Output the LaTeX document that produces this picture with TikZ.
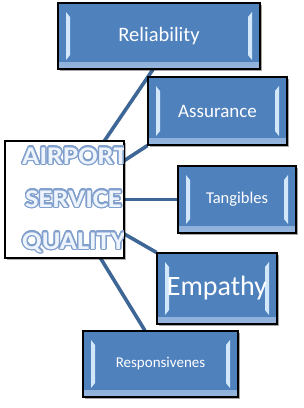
\documentclass[tikz,border=0pt]{standalone}
\usepackage{fontspec}
\setmainfont{Carlito}
\usepackage[copies]{contour}
\usetikzlibrary{positioning,calc,shadows,backgrounds}
\definecolor{boxblue}{RGB}{79,129,189}
\definecolor{boxbottom}{RGB}{150,182,222}
\definecolor{bevellight}{RGB}{210,232,250}
\definecolor{linkblue}{RGB}{62,102,150}
\definecolor{hubedge}{RGB}{130,160,205}
\definecolor{hubfill}{RGB}{238,244,251}
\contourlength{1.2pt}
\contournumber{24}
\newcommand{\hubword}[1]{\scalebox{1.12}[1]{\contour{hubedge}{#1}}}

\begin{document}
\begin{tikzpicture}[x=1pt,y=-1pt,
    dimbox/.style={draw=black,line width=1.1pt,fill=boxblue,text=white,inner sep=0pt,
      drop shadow={shadow xshift=1.5pt,shadow yshift=-1.5pt,opacity=.35,fill=black},
      path picture={
        \shade[top color=boxblue,bottom color=boxbottom]
          ([yshift=7pt]path picture bounding box.south west) rectangle (path picture bounding box.south east);
        \fill[bevellight] ([shift={(8pt,-9pt)}]path picture bounding box.north west)
          -- ([shift={(12pt,-14pt)}]path picture bounding box.north west)
          -- ([shift={(12pt,14pt)}]path picture bounding box.south west)
          -- ([shift={(8pt,9pt)}]path picture bounding box.south west) -- cycle;
        \fill[bevellight] ([shift={(-8pt,-9pt)}]path picture bounding box.north east)
          -- ([shift={(-12pt,-14pt)}]path picture bounding box.north east)
          -- ([shift={(-12pt,14pt)}]path picture bounding box.south east)
          -- ([shift={(-8pt,9pt)}]path picture bounding box.south east) -- cycle;
      }},
    hubword/.style={inner sep=0pt,anchor=base west,text=hubfill,
      font=\fontsize{25.5}{27}\selectfont\bfseries},
    link/.style={draw=linkblue,line width=3.6pt}]
  \useasboundingbox (0,0) rectangle (304,408);

  % centre box
  \node[draw=black,line width=1.1pt,fill=white,minimum width=119pt,minimum height=117pt,
    drop shadow={shadow xshift=1.5pt,shadow yshift=-1.5pt,opacity=.3,fill=black}] (hub) at (64.5,199.5) {};
  \begin{scope}
    \clip ([shift={(0.6pt,-0.6pt)}]hub.north west) rectangle ([shift={(-0.6pt,0.6pt)}]hub.south east);
    \node[hubword] (airport) at (22,164) {\hubword{AIRPORT}};
    \node[hubword] (service) at (25,207) {\hubword{SERVICE}};
    \node[hubword] (quality) at (22,249) {\hubword{QUALITY}};
  \end{scope}

  % dimensions
  \node[dimbox,minimum width=202pt,minimum height=66pt,font=\fontsize{20.5}{22}\selectfont] (rel) at (159,36) {Reliability};
  \node[dimbox,minimum width=139pt,minimum height=68pt,font=\fontsize{19}{21}\selectfont] (ass) at (217.5,111) {Assurance};
  \node[dimbox,minimum width=118pt,minimum height=67pt,font=\fontsize{16.5}{18}\selectfont] (tan) at (237,199.5) {Tangibles};
  \node[dimbox,minimum width=120pt,minimum height=71pt,font=\fontsize{28}{30}\selectfont] (emp) at (217,288.5) {Empathy};
  \node[dimbox,minimum width=155pt,minimum height=66pt,font=\fontsize{15}{17}\selectfont] (resp) at (160.5,364) {Responsivenes};

  \begin{scope}[on background layer]
    \draw[link] (hub.center) -- ($(rel.south west)!.47!(rel.south east)$);
    \draw[link] (hub.center) -- (ass.south west);
    \draw[link] (hub.center) -- (tan.west);
    \draw[link] (hub.center) -- (emp.north west);
    \draw[link] (hub.center) -- ($(resp.north west)!.4!(resp.north east)$);
  \end{scope}
\end{tikzpicture}
\end{document}
